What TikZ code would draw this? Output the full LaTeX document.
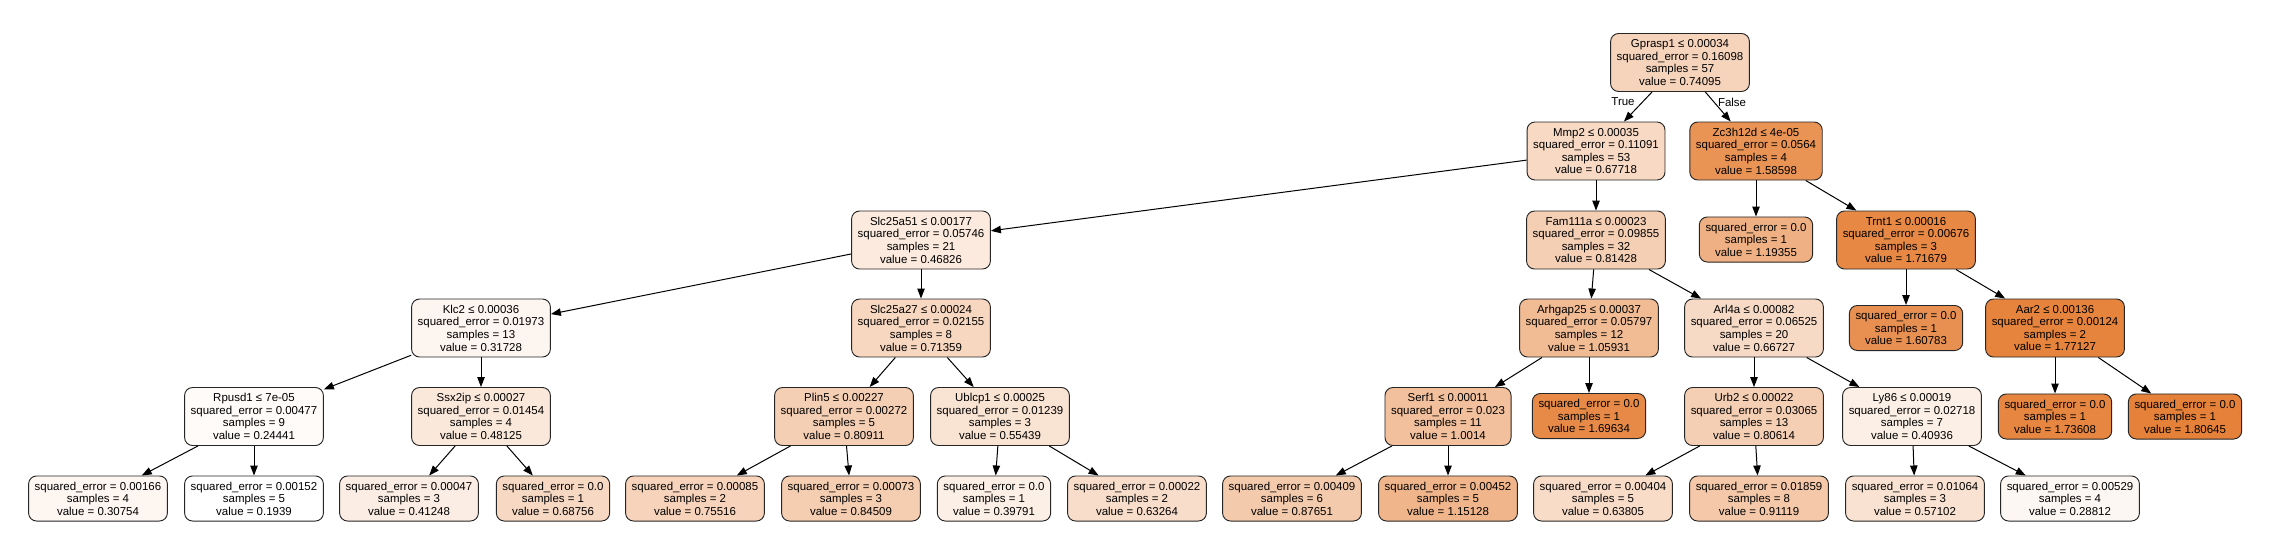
\documentclass[tikz,border=0pt]{standalone}
\usepackage{fontspec}
\setmainfont{Liberation Sans}
\usetikzlibrary{arrows.meta}

\definecolor{treeorange}{HTML}{E58139}

\newcommand{\tsplit}[4]{#1\\squared\_error = #2\\samples = #3\\value = #4}
\newcommand{\tleaf}[3]{squared\_error = #1\\samples = #2\\value = #3}

\begin{document}
\begin{tikzpicture}[x=0.75pt,y=-0.75pt,font=\fontsize{8.6}{9.45}\selectfont,
  tbox/.style={draw=black!85,line width=0.7pt,rounded corners=6pt,align=center,inner xsep=4.6pt,inner ysep=1pt},
  tsplitbox/.style={tbox,minimum height=43.5pt},
  tleafbox/.style={tbox,minimum height=33.8pt},
  edge/.style={draw=black,line width=0.75pt,-{Triangle[length=7.5pt,width=5.6pt]}}]

\useasboundingbox (0,0) rectangle (2270,546);

% level 0 and 1
\node[tsplitbox,fill=treeorange!34!white] (root) at (1680,62.5) {\tsplit{Gprasp1 ≤ 0.00034}{0.16098}{57}{0.74095}};
\node[tsplitbox,fill=treeorange!30!white] (mmp) at (1596,151) {\tsplit{Mmp2 ≤ 0.00035}{0.11091}{53}{0.67718}};
\node[tsplitbox,fill=treeorange!86!white] (zc) at (1756,151) {\tsplit{Zc3h12d ≤ 4e-05}{0.0564}{4}{1.58598}};

% level 2
\node[tsplitbox,fill=treeorange!17!white] (slca) at (921,240) {\tsplit{Slc25a51 ≤ 0.00177}{0.05746}{21}{0.46826}};
\node[tsplitbox,fill=treeorange!38!white] (fam) at (1596,240) {\tsplit{Fam111a ≤ 0.00023}{0.09855}{32}{0.81428}};
\node[tleafbox,fill=treeorange!62!white] (la) at (1756,239.5) {\tleaf{0.0}{1}{1.19355}};
\node[tsplitbox,fill=treeorange!94!white] (trnt) at (1906,240) {\tsplit{Trnt1 ≤ 0.00016}{0.00676}{3}{1.71679}};

% level 3
\node[tsplitbox,fill=treeorange!8!white] (klc) at (481,328) {\tsplit{Klc2 ≤ 0.00036}{0.01973}{13}{0.31728}};
\node[tsplitbox,fill=treeorange!32!white] (slcb) at (921,328) {\tsplit{Slc25a27 ≤ 0.00024}{0.02155}{8}{0.71359}};
\node[tsplitbox,fill=treeorange!54!white] (arh) at (1589,328) {\tsplit{Arhgap25 ≤ 0.00037}{0.05797}{12}{1.05931}};
\node[tsplitbox,fill=treeorange!29!white] (arl) at (1754,328) {\tsplit{Arl4a ≤ 0.00082}{0.06525}{20}{0.66727}};
\node[tleafbox,fill=treeorange!88!white] (lb) at (1906,328) {\tleaf{0.0}{1}{1.60783}};
\node[tsplitbox,fill=treeorange!98!white] (aar) at (2055,328) {\tsplit{Aar2 ≤ 0.00136}{0.00124}{2}{1.77127}};

% level 4
\node[tsplitbox,fill=treeorange!3!white] (rpu) at (254,416.5) {\tsplit{Rpusd1 ≤ 7e-05}{0.00477}{9}{0.24441}};
\node[tsplitbox,fill=treeorange!18!white] (ssx) at (481,416.5) {\tsplit{Ssx2ip ≤ 0.00027}{0.01454}{4}{0.48125}};
\node[tsplitbox,fill=treeorange!38!white] (plin) at (844,416.5) {\tsplit{Plin5 ≤ 0.00227}{0.00272}{5}{0.80911}};
\node[tsplitbox,fill=treeorange!22!white] (ubl) at (1000,416.5) {\tsplit{Ublcp1 ≤ 0.00025}{0.01239}{3}{0.55439}};
\node[tsplitbox,fill=treeorange!50!white] (serf) at (1448,416.5) {\tsplit{Serf1 ≤ 0.00011}{0.023}{11}{1.0014}};
\node[tleafbox,fill=treeorange!93!white] (lc) at (1589,416) {\tleaf{0.0}{1}{1.69634}};
\node[tsplitbox,fill=treeorange!38!white] (urb) at (1754,416.5) {\tsplit{Urb2 ≤ 0.00022}{0.03065}{13}{0.80614}};
\node[tsplitbox,fill=treeorange!13!white] (ly) at (1912,416.5) {\tsplit{Ly86 ≤ 0.00019}{0.02718}{7}{0.40936}};
\node[tleafbox,fill=treeorange!96!white] (ld) at (2055,416.5) {\tleaf{0.0}{1}{1.73608}};
\node[tleafbox,fill=treeorange] (le) at (2185,416.5) {\tleaf{0.0}{1}{1.80645}};

% level 5
\node[tleafbox,fill=treeorange!7!white] (b1) at (98,498.5) {\tleaf{0.00166}{4}{0.30754}};
\node[tleafbox,fill=white] (b2) at (254,498.5) {\tleaf{0.00152}{5}{0.1939}};
\node[tleafbox,fill=treeorange!14!white] (b3) at (409,498.5) {\tleaf{0.00047}{3}{0.41248}};
\node[tleafbox,fill=treeorange!31!white] (b4) at (553,498.5) {\tleaf{0.0}{1}{0.68756}};
\node[tleafbox,fill=treeorange!35!white] (b5) at (695,498.5) {\tleaf{0.00085}{2}{0.75516}};
\node[tleafbox,fill=treeorange!40!white] (b6) at (851,498.5) {\tleaf{0.00073}{3}{0.84509}};
\node[tleafbox,fill=treeorange!13!white] (b7) at (994,498.5) {\tleaf{0.0}{1}{0.39791}};
\node[tleafbox,fill=treeorange!27!white] (b8) at (1137,498.5) {\tleaf{0.00022}{2}{0.63264}};
\node[tleafbox,fill=treeorange!42!white] (b9) at (1292,498.5) {\tleaf{0.00409}{6}{0.87651}};
\node[tleafbox,fill=treeorange!59!white] (b10) at (1448,498.5) {\tleaf{0.00452}{5}{1.15128}};
\node[tleafbox,fill=treeorange!28!white] (b11) at (1603,498.5) {\tleaf{0.00404}{5}{0.63805}};
\node[tleafbox,fill=treeorange!44!white] (b12) at (1759,498.5) {\tleaf{0.01859}{8}{0.91119}};
\node[tleafbox,fill=treeorange!23!white] (b13) at (1915,498.5) {\tleaf{0.01064}{3}{0.57102}};
\node[tleafbox,fill=treeorange!6!white] (b14) at (2070,498.5) {\tleaf{0.00529}{4}{0.28812}};

% edges
\draw[edge] (root) -- (mmp);
\draw[edge] (root) -- (zc);
\draw[edge] (mmp) -- (slca);
\draw[edge] (mmp) -- (fam);
\draw[edge] (zc) -- (la);
\draw[edge] (zc) -- (trnt);
\draw[edge] (slca) -- (klc);
\draw[edge] (slca) -- (slcb);
\draw[edge] (fam) -- (arh);
\draw[edge] (fam) -- (arl);
\draw[edge] (trnt) -- (lb);
\draw[edge] (trnt) -- (aar);
\draw[edge] (klc) -- (rpu);
\draw[edge] (klc) -- (ssx);
\draw[edge] (slcb) -- (plin);
\draw[edge] (slcb) -- (ubl);
\draw[edge] (arh) -- (serf);
\draw[edge] (arh) -- (lc);
\draw[edge] (arl) -- (urb);
\draw[edge] (arl) -- (ly);
\draw[edge] (aar) -- (ld);
\draw[edge] (aar) -- (le);
\draw[edge] (rpu) -- (b1);
\draw[edge] (rpu) -- (b2);
\draw[edge] (ssx) -- (b3);
\draw[edge] (ssx) -- (b4);
\draw[edge] (plin) -- (b5);
\draw[edge] (plin) -- (b6);
\draw[edge] (ubl) -- (b7);
\draw[edge] (ubl) -- (b8);
\draw[edge] (serf) -- (b9);
\draw[edge] (serf) -- (b10);
\draw[edge] (urb) -- (b11);
\draw[edge] (urb) -- (b12);
\draw[edge] (ly) -- (b13);
\draw[edge] (ly) -- (b14);

\node (lbltrue) at (1623,102) {True};
\node (lblfalse) at (1732,102) {False};

\end{tikzpicture}
\end{document}
